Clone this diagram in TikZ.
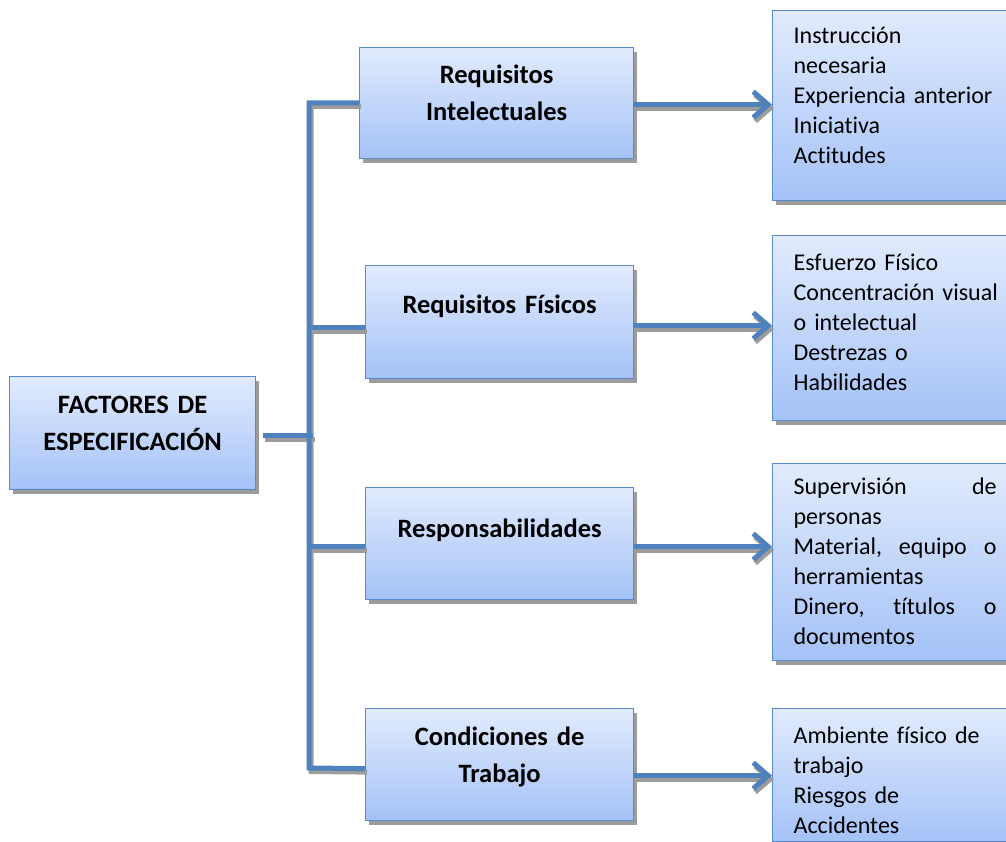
\documentclass[tikz,border=0pt]{standalone}
\usepackage{fontspec}
\setmainfont{Carlito}[Ligatures=CommonOff]
\usetikzlibrary{arrows.meta,shadows}

\definecolor{linkblue}{HTML}{4F81BD}
\definecolor{boxedge}{HTML}{5A8ACB}
\definecolor{boxtop}{HTML}{E1EBFD}
\definecolor{boxbottom}{HTML}{A4C2F7}
\definecolor{shadowgray}{HTML}{9C9C9C}

\tikzset{
  panel/.style={draw=boxedge, line width=1.2pt,
    top color=boxtop, bottom color=boxbottom,
    drop shadow={shadow xshift=3pt, shadow yshift=-4pt, fill=shadowgray, opacity=1},
    anchor=north west, inner ysep=0pt},
  headbox/.style={panel, inner xsep=0pt, align=center,
    font=\bfseries\fontsize{26.5}{37}\selectfont},
  listbox/.style={panel, inner xsep=21pt, text width=215pt, align=left,
    font=\fontsize{24}{30}\selectfont},
  linkline/.style={draw=linkblue, line width=5pt},
  shadowline/.style={draw=shadowgray, line width=5pt},
  barb/.style={-{Straight Barb[length=15pt, width=26pt]}},
}

% justified line of the list text
\newcommand\fullline[1]{\makebox[203pt][l]{#1}}

% all connectors, drawn once as shadow and once in blue
\newcommand\connectorpaths[1]{%
  \draw[#1] (b1.west |- tt) -- (tt) -- (tb) -- (j4);
  \draw[#1] (tt |- j2) -- (j2);
  \draw[#1] (tt |- j3) -- (j3);
  \draw[#1, shorten >=-4pt] (jf) -- (jf -| tt);
  \draw[#1, barb] (a1) -- (a1 -| r1.west);
  \draw[#1, barb] (a2) -- (a2 -| r2.west);
  \draw[#1, barb] (a3) -- (a3 -| r3.west);
  \draw[#1, barb] (a4) -- (a4 -| r4.west);
}

\begin{document}
\begin{tikzpicture}[x=1pt, y=-1pt]
  \clip (0,0) rectangle (1006,842);

  % boxes: text height = distance from top edge to first baseline
  \node[headbox, text width=246pt, text height=37pt, text depth=76pt] (f) at (9,376)
    {FACTORES DE\\ESPECIFICACIÓN};

  \node[headbox, text width=274pt, text height=36pt, text depth=75pt] (b1) at (359,47)
    {Requisitos\\Intelectuales};
  \node[headbox, text width=268pt, text height=48pt, text depth=65pt] (b2) at (365,265)
    {Requisitos Físicos};
  \node[headbox, text width=268pt, text height=50pt, text depth=62pt] (b3) at (365,487)
    {Responsabilidades};
  \node[headbox, text width=268pt, text height=37pt, text depth=75pt] (b4) at (365,708)
    {Condiciones de\\Trabajo};

  \node[listbox, text height=33pt, text depth=157pt] (r1) at (772,10)
    {Instrucción\\necesaria\\Experiencia anterior\\Iniciativa\\Actitudes};
  \node[listbox, text height=35pt, text depth=150pt] (r2) at (772,235)
    {Esfuerzo Físico\\Concentración visual\\o intelectual\\Destrezas o\\Habilidades};
  \node[listbox, text height=31pt, text depth=166pt] (r3) at (772,463)
    {\fullline{Supervisión\hfill de}\\personas\\
     \fullline{Material,\hfill equipo\hfill o}\\herramientas\\
     \fullline{Dinero,\hfill títulos\hfill o}\\documentos};
  \node[listbox, text height=35pt, text depth=98pt] (r4) at (772,708)
    {Ambiente físico de\\trabajo\\Riesgos de\\Accidentes};

  % trunk and branch points
  \coordinate (tt) at (309,103);
  \coordinate (tb) at (309,768);
  \coordinate (j2) at ([yshift=-5.5pt]b2.west);
  \coordinate (j3) at ([yshift=-3pt]b3.west);
  \coordinate (j4) at ([yshift=-4pt]b4.west);
  \coordinate (jf) at ([xshift=7pt, yshift=-2.5pt]f.east);

  % arrow start points
  \coordinate (a1) at ([yshift=-1.5pt]b1.east);
  \coordinate (a2) at ([yshift=-3.5pt]b2.east);
  \coordinate (a3) at ([yshift=-3pt]b3.east);
  \coordinate (a4) at ([yshift=-11pt]b4.east);

  \begin{scope}[transform canvas={xshift=2pt, yshift=-3.5pt}]
    \connectorpaths{shadowline}
  \end{scope}
  \connectorpaths{linkline}
\end{tikzpicture}
\end{document}
